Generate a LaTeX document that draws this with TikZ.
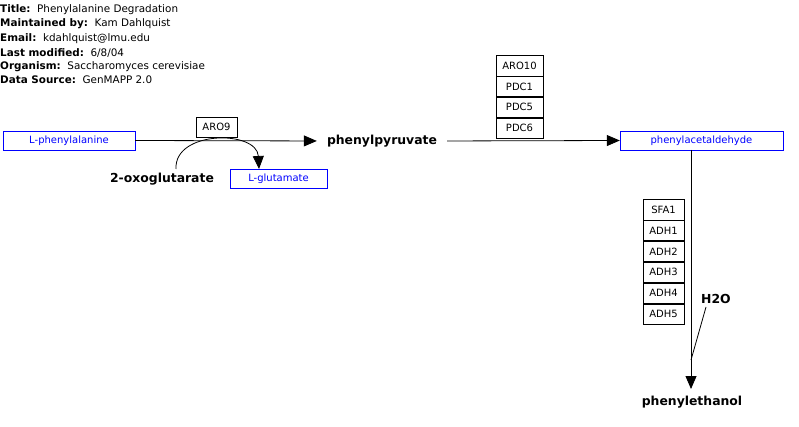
\documentclass[tikz,border=0pt]{standalone}
\usepackage{fontspec}
\setmainfont{DejaVu Sans}
\usetikzlibrary{arrows.meta}
\begin{document}
\begin{tikzpicture}[x=1pt,y=-1pt,
  hdr/.style={anchor=west,inner sep=0pt,font=\fontsize{10.4}{12}\selectfont},
  gbox/.style={draw=blue,text=blue,minimum height=19pt,inner sep=0pt,font=\fontsize{10}{12}\selectfont},
  enz/.style={draw=black,minimum height=20.5pt,inner sep=0pt,font=\fontsize{10}{12}\selectfont},
  met/.style={inner sep=0pt,font=\bfseries\fontsize{12.4}{14}\selectfont},
  rxn/.style={-{Triangle[length=13pt,width=11pt]},line width=0.8pt},
]
\useasboundingbox (0,0) rectangle (799,427);
% header
\node[hdr] (h1) at (0,10) {\textbf{Title:}\ \ Phenylalanine Degradation};
\node[hdr] (h2) at (0,24) {\textbf{Maintained by:}\ \ Kam Dahlquist};
\node[hdr] (h3) at (0,39) {\textbf{Email:}\ \ kdahlquist@lmu.edu};
\node[hdr] (h4) at (0,53) {\textbf{Last modified:}\ \ 6/8/04};
\node[hdr] (h5) at (0,67) {\textbf{Organism:}\ \ Saccharomyces cerevisiae};
\node[hdr] (h6) at (0,80) {\textbf{Data Source:}\ \ GenMAPP 2.0};
% metabolites
\node[gbox,minimum width=132pt] (phe) at (69,140.5) {L-phenylalanine};
\node[met] (pp) at (382,141) {phenylpyruvate};
\node[met] (oxo) at (162,179) {2-oxoglutarate};
\node[gbox,minimum width=97pt] (glu) at (278.5,178.5) {L-glutamate};
\node[gbox,minimum width=163pt] (pa) at (701.5,140.5) {phenylacetaldehyde};
\node[met] (pe) at (692,402) {phenylethanol};
\node[met] (h2o) at (716,299) {H2O};
% enzymes
\node[enz,minimum width=41pt] (aro9) at (216.5,127) {ARO9};
\node[enz,minimum width=47pt] (aro10) at (519.5,65.5) {ARO10};
\node[enz,minimum width=47pt,anchor=north] (pdc1) at (aro10.south) {PDC1};
\node[enz,minimum width=47pt,anchor=north] (pdc5) at (pdc1.south) {PDC5};
\node[enz,minimum width=47pt,anchor=north] (pdc6) at (pdc5.south) {PDC6};
\node[enz,minimum width=41pt] (sfa1) at (663.5,209.5) {SFA1};
\node[enz,minimum width=41pt,anchor=north] (adh1) at (sfa1.south) {ADH1};
\node[enz,minimum width=41pt,anchor=north] (adh2) at (adh1.south) {ADH2};
\node[enz,minimum width=41pt,anchor=north] (adh3) at (adh2.south) {ADH3};
\node[enz,minimum width=41pt,anchor=north] (adh4) at (adh3.south) {ADH4};
\node[enz,minimum width=41pt,anchor=north] (adh5) at (adh4.south) {ADH5};
% reactions
\draw[rxn,shorten >=10pt] (phe.east) -- (pp.west);
\draw[rxn,shorten <=10pt] (pp.east) -- (pa.west);
\coordinate (pab) at (691,150);
\coordinate (pet) at (691,389);
\draw[rxn] (pab) -- (pet);
\coordinate (h2s) at (706,307);
\coordinate (h2e) at (691,360);
\draw[line width=0.8pt] (h2s) -- (h2e);
\coordinate (oxt) at (176,169);
\coordinate (glt) at (259,169);
\draw[rxn] (oxt) .. controls (174,130) and (257,130) .. (glt);
\end{tikzpicture}
\end{document}
